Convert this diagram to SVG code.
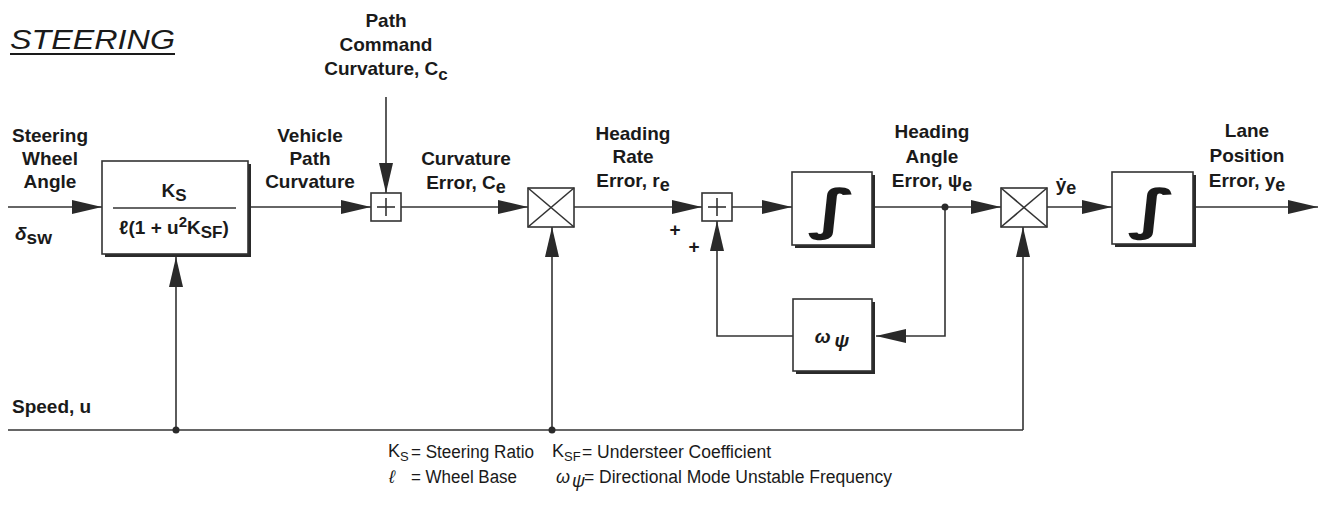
<svg xmlns="http://www.w3.org/2000/svg" width="1329" height="512" viewBox="0 0 1329 512">
<style>
.ln{stroke:#333;stroke-width:1.6;fill:none}
.arr{stroke:#333;stroke-width:1.6;fill:none;marker-end:url(#ah)}
.box{fill:#fff;stroke:#333;stroke-width:1.6}
.sh{fill:#2a2a2a}
.t{font-family:"Liberation Sans",Arial,Helvetica,sans-serif;font-weight:bold;font-size:19px;fill:#1a1a1a;text-anchor:middle}
.tl{font-family:"Liberation Sans",Arial,Helvetica,sans-serif;font-weight:bold;font-size:19px;fill:#1a1a1a}
.lg{font-family:"Liberation Sans",Arial,Helvetica,sans-serif;font-size:18px;fill:#1a1a1a}
.int{font-family:"DejaVu Sans",sans-serif;font-weight:bold;font-size:54px;fill:#1a1a1a;text-anchor:middle}
</style>
<defs>
<marker id="ah" markerUnits="userSpaceOnUse" markerWidth="31" markerHeight="15" refX="30" refY="7" orient="auto">
<path d="M0,0 L30,7 L0,14 Z" fill="#2a2a2a"/>
</marker>
</defs>

<text x="10" y="49" font-family="Liberation Sans,Arial,sans-serif" font-style="italic" font-size="27" textLength="165" lengthAdjust="spacingAndGlyphs" fill="#1a1a1a">STEERING</text>
<line x1="10" y1="54" x2="175" y2="54" stroke="#1a1a1a" stroke-width="2"/>

<g id="connectors">
<line class="arr" x1="8" y1="207" x2="102" y2="207"/>
<line class="arr" x1="248" y1="207" x2="371" y2="207"/>
<line class="arr" x1="386" y1="97" x2="386" y2="193"/>
<line class="arr" x1="401" y1="207" x2="528" y2="207"/>
<line class="arr" x1="574" y1="207" x2="702" y2="207"/>
<line class="arr" x1="732" y1="207" x2="792" y2="207"/>
<line class="arr" x1="872" y1="207" x2="1001" y2="207"/>
<line class="arr" x1="1047" y1="207" x2="1112" y2="207"/>
<line class="arr" x1="1193" y1="207" x2="1318" y2="207"/>
<path class="arr" d="M945,207 V336 H876"/>
<path class="arr" d="M793,336 H717 V221"/>
<path class="ln" d="M8,430 H1023"/>
<line class="arr" x1="176" y1="430" x2="176" y2="257"/>
<line class="arr" x1="552" y1="430" x2="552" y2="227"/>
<line class="arr" x1="1023" y1="430" x2="1023" y2="227"/>
<circle cx="176" cy="430" r="3.5" fill="#2a2a2a"/>
<circle cx="552" cy="430" r="3.5" fill="#2a2a2a"/>
<circle cx="945" cy="207" r="3.5" fill="#2a2a2a"/>
</g>

<g id="vehicle-block">
<rect class="sh" x="105" y="164" width="146" height="93"/>
<rect class="box" x="102" y="161" width="146" height="93"/>
<line class="ln" x1="113" y1="208" x2="236" y2="208"/>
<text class="t" x="174" y="197">K<tspan font-size="17" dy="4">S</tspan></text>
<text class="t" x="174" y="234">ℓ(1 + u<tspan font-size="15" dy="-7">2</tspan><tspan dy="7">K</tspan><tspan font-size="17" dy="4">SF</tspan><tspan dy="-4">)</tspan></text>
</g>

<g id="sum1">
<rect class="box" x="371" y="193" width="30" height="28"/>
<line class="ln" x1="377" y1="207" x2="395" y2="207"/>
<line class="ln" x1="386" y1="198" x2="386" y2="216"/>
</g>

<g id="mult1">
<rect class="box" x="528" y="188" width="46" height="39"/>
<line class="ln" x1="528" y1="188" x2="574" y2="227"/>
<line class="ln" x1="574" y1="188" x2="528" y2="227"/>
</g>

<g id="sum2">
<rect class="box" x="702" y="193" width="30" height="28"/>
<line class="ln" x1="708" y1="207" x2="726" y2="207"/>
<line class="ln" x1="717" y1="198" x2="717" y2="216"/>
<text class="t" x="675" y="236" font-size="18">+</text>
<text class="t" x="694" y="253" font-size="18">+</text>
</g>

<g id="integrator1">
<rect class="sh" x="795" y="175" width="80" height="73"/>
<rect class="box" x="792" y="172" width="80" height="73"/>
<text class="int" x="0" y="0" transform="translate(832,228) scale(1.5,1)">∫</text>
</g>

<g id="omega-block">
<rect class="sh" x="796" y="302" width="79" height="72"/>
<rect class="box" x="793" y="299" width="79" height="72"/>
<text class="t" x="832" y="343" font-style="italic">ω<tspan dx="4" dy="4">ψ</tspan></text>
</g>

<g id="mult2">
<rect class="box" x="1001" y="188" width="46" height="39"/>
<line class="ln" x1="1001" y1="188" x2="1047" y2="227"/>
<line class="ln" x1="1047" y1="188" x2="1001" y2="227"/>
</g>

<g id="integrator2">
<rect class="sh" x="1115" y="175" width="81" height="72"/>
<rect class="box" x="1112" y="172" width="81" height="72"/>
<text class="int" x="0" y="0" transform="translate(1152,228) scale(1.5,1)">∫</text>
</g>

<g id="labels">
<text class="t" x="50" y="142">Steering</text>
<text class="t" x="50" y="165">Wheel</text>
<text class="t" x="50" y="188">Angle</text>
<text class="tl" x="15" y="240" font-style="italic" font-size="22">δ<tspan font-style="normal" font-size="19" dy="4">sw</tspan></text>

<text class="t" x="310" y="142">Vehicle</text>
<text class="t" x="310" y="165">Path</text>
<text class="t" x="310" y="188">Curvature</text>

<text class="t" x="386" y="27">Path</text>
<text class="t" x="386" y="51">Command</text>
<text class="t" x="386" y="75">Curvature, C<tspan font-size="17" dy="5">c</tspan></text>

<text class="t" x="466" y="165">Curvature</text>
<text class="t" x="466" y="189">Error, C<tspan font-size="18" dy="4">e</tspan></text>

<text class="t" x="633" y="140">Heading</text>
<text class="t" x="633" y="163">Rate</text>
<text class="t" x="633" y="187">Error, r<tspan font-size="18" dy="4">e</tspan></text>

<text class="t" x="932" y="138">Heading</text>
<text class="t" x="932" y="163">Angle</text>
<text class="t" x="932" y="187">Error, ψ<tspan font-size="18" dy="4">e</tspan></text>

<text class="t" x="1066" y="191">ẏ<tspan font-size="18" dy="3">e</tspan></text>

<text class="t" x="1247" y="137">Lane</text>
<text class="t" x="1247" y="162">Position</text>
<text class="t" x="1247" y="187">Error, y<tspan font-size="18" dy="4">e</tspan></text>

<text class="tl" x="12" y="413">Speed, u</text>
</g>

<g id="legend">
<text class="lg" x="388" y="457">K<tspan font-size="13" dy="4">S</tspan></text>
<text class="lg" x="411" y="458" textLength="123" lengthAdjust="spacingAndGlyphs">= Steering Ratio</text>
<text class="lg" x="552" y="457">K<tspan font-size="13" dy="4">SF</tspan></text>
<text class="lg" x="582" y="458" textLength="189" lengthAdjust="spacingAndGlyphs">= Understeer Coefficient</text>
<text class="lg" x="389" y="483" font-style="italic">ℓ</text>
<text class="lg" x="411" y="483" textLength="106" lengthAdjust="spacingAndGlyphs">= Wheel Base</text>
<text class="lg" x="556" y="483" font-style="italic" font-size="16">ω<tspan dx="2" dy="4">ψ</tspan></text>
<text class="lg" x="584" y="483" textLength="308" lengthAdjust="spacingAndGlyphs">= Directional Mode Unstable Frequency</text>
</g>
</svg>
